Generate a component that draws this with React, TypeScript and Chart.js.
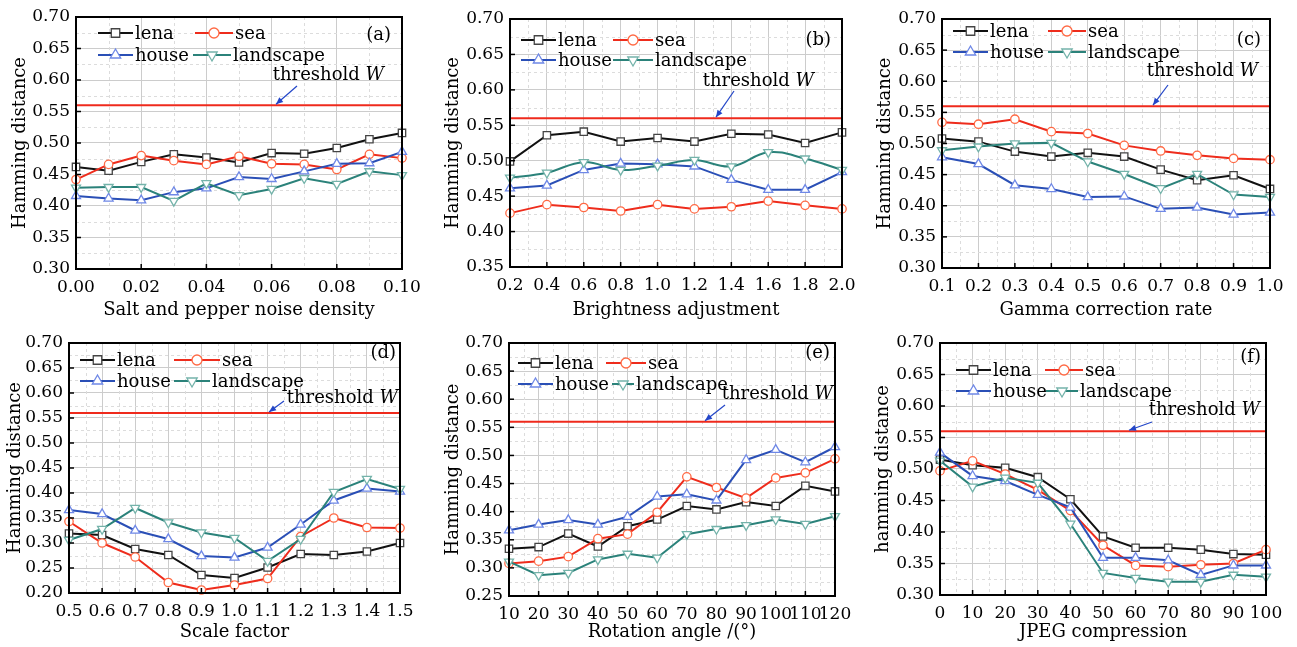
import React, { useEffect, useRef } from "react";
import { Chart, registerables } from "chart.js";

Chart.register(...registerables);

const SERIF = "'DejaVu Serif', 'Liberation Serif', serif";

const seriesNames = ["lena", "sea", "house", "landscape"];
const lineColors = ["#111111", "#ee2c1c", "#2a4fb6", "#2b827a"];
const markerColors = ["#444444", "#ff6a45", "#6f88e6", "#74b3aa"];
const markerStyles = ["rect", "circle", "triangle", "triangleDown"];
const thresholdW = 0.56;

// (a) Salt and pepper noise density
const aX = [0, 0.01, 0.02, 0.03, 0.04, 0.05, 0.06, 0.07, 0.08, 0.09, 0.1];
const aLena = [0.462, 0.456, 0.47, 0.482, 0.477, 0.469, 0.484, 0.483, 0.492, 0.506, 0.516];
const aSea = [0.442, 0.466, 0.48, 0.472, 0.466, 0.479, 0.467, 0.466, 0.458, 0.482, 0.476];
const aHouse = [0.416, 0.412, 0.409, 0.422, 0.428, 0.446, 0.443, 0.455, 0.467, 0.468, 0.486];
const aLandscape = [0.429, 0.43, 0.43, 0.408, 0.436, 0.417, 0.427, 0.444, 0.435, 0.455, 0.449];
const aXTicks = ["0.00", "0.02", "0.04", "0.06", "0.08", "0.10"];
const aYTicks = ["0.30", "0.35", "0.40", "0.45", "0.50", "0.55", "0.60", "0.65", "0.70"];

// (b) Brightness adjustment
const bX = [0.2, 0.4, 0.6, 0.8, 1.0, 1.2, 1.4, 1.6, 1.8, 2.0];
const bLena = [0.499, 0.536, 0.541, 0.527, 0.532, 0.527, 0.538, 0.537, 0.525, 0.54];
const bSea = [0.426, 0.438, 0.434, 0.429, 0.438, 0.432, 0.435, 0.443, 0.437, 0.432];
const bHouse = [0.461, 0.465, 0.487, 0.496, 0.495, 0.492, 0.473, 0.459, 0.459, 0.484];
const bLandscape = [0.476, 0.483, 0.498, 0.487, 0.493, 0.501, 0.492, 0.512, 0.503, 0.487];
const bXTicks = ["0.2", "0.4", "0.6", "0.8", "1.0", "1.2", "1.4", "1.6", "1.8", "2.0"];
const bYTicks = ["0.35", "0.40", "0.45", "0.50", "0.55", "0.60", "0.65", "0.70"];

// (c) Gamma correction rate
const cX = [0.1, 0.2, 0.3, 0.4, 0.5, 0.6, 0.7, 0.8, 0.9, 1.0];
const cLena = [0.508, 0.503, 0.487, 0.479, 0.485, 0.479, 0.458, 0.441, 0.449, 0.427];
const cSea = [0.534, 0.531, 0.539, 0.519, 0.516, 0.497, 0.488, 0.481, 0.476, 0.474];
const cHouse = [0.478, 0.467, 0.433, 0.427, 0.414, 0.415, 0.395, 0.397, 0.386, 0.389];
const cLandscape = [0.489, 0.495, 0.5, 0.501, 0.471, 0.451, 0.428, 0.451, 0.418, 0.414];
const cXTicks = ["0.1", "0.2", "0.3", "0.4", "0.5", "0.6", "0.7", "0.8", "0.9", "1.0"];
const cYTicks = ["0.30", "0.35", "0.40", "0.45", "0.50", "0.55", "0.60", "0.65", "0.70"];

// (d) Scale factor
const dX = [0.5, 0.6, 0.7, 0.8, 0.9, 1.0, 1.1, 1.2, 1.3, 1.4, 1.5];
const dLena = [0.319, 0.316, 0.288, 0.276, 0.236, 0.23, 0.251, 0.278, 0.276, 0.283, 0.3];
const dSea = [0.343, 0.3, 0.272, 0.221, 0.206, 0.216, 0.229, 0.313, 0.35, 0.331, 0.33];
const dHouse = [0.366, 0.358, 0.325, 0.308, 0.274, 0.271, 0.291, 0.337, 0.385, 0.409, 0.403];
const dLandscape = [0.306, 0.328, 0.37, 0.341, 0.321, 0.31, 0.264, 0.308, 0.402, 0.428, 0.408];
const dXTicks = ["0.5", "0.6", "0.7", "0.8", "0.9", "1.0", "1.1", "1.2", "1.3", "1.4", "1.5"];
const dYTicks = ["0.20", "0.25", "0.30", "0.35", "0.40", "0.45", "0.50", "0.55", "0.60", "0.65", "0.70"];

// (e) Rotation angle
const eX = [10, 20, 30, 40, 50, 60, 70, 80, 90, 100, 110, 120];
const eLena = [0.334, 0.337, 0.361, 0.338, 0.374, 0.386, 0.41, 0.404, 0.417, 0.41, 0.446, 0.436];
const eSea = [0.308, 0.312, 0.32, 0.352, 0.36, 0.399, 0.462, 0.443, 0.424, 0.46, 0.469, 0.494];
const eHouse = [0.367, 0.377, 0.385, 0.377, 0.391, 0.427, 0.431, 0.42, 0.492, 0.51, 0.488, 0.515];
const eLandscape = [0.311, 0.287, 0.291, 0.315, 0.325, 0.318, 0.36, 0.369, 0.376, 0.386, 0.378, 0.392];
const eXTicks = ["10", "20", "30", "40", "50", "60", "70", "80", "90", "100", "110", "120"];
const eYTicks = ["0.25", "0.30", "0.35", "0.40", "0.45", "0.50", "0.55", "0.60", "0.65", "0.70"];

// (f) JPEG compression
const fX = [0, 10, 20, 30, 40, 50, 60, 70, 80, 90, 100];
const fLena = [0.515, 0.506, 0.502, 0.487, 0.452, 0.393, 0.375, 0.375, 0.372, 0.365, 0.364];
const fSea = [0.497, 0.513, 0.492, 0.467, 0.434, 0.379, 0.347, 0.345, 0.348, 0.35, 0.372];
const fHouse = [0.526, 0.489, 0.481, 0.459, 0.439, 0.359, 0.359, 0.355, 0.332, 0.347, 0.347];
const fLandscape = [0.513, 0.472, 0.486, 0.478, 0.413, 0.335, 0.327, 0.321, 0.321, 0.332, 0.329];
const fXTicks = ["0", "10", "20", "30", "40", "50", "60", "70", "80", "90", "100"];
const fYTicks = ["0.30", "0.35", "0.40", "0.45", "0.50", "0.55", "0.60", "0.65", "0.70"];

type PanelCfg = {
  tag: string;
  xTitle: string;
  yTitle: string;
  x: number[];
  series: number[][];
  smooth: boolean[];
  xTicks: string[];
  yTicks: string[];
  box: { x0: number; y0: number; w: number; h: number; L: number; T: number; R: number; B: number };
  yTitleX: number;
  xTitlePad: number;
  legendX: number[];
  legendLen: number[];
  legendRows: number[];
  label: { right: number; y: number };
  thr: { right: number; y: number; ax: number; ay: number; tx: number };
};

const panels: PanelCfg[] = [
  {
    tag: "(a)", xTitle: "Salt and pepper noise density", yTitle: "Hamming distance",
    x: aX, series: [aLena, aSea, aHouse, aLandscape], smooth: [false, false, false, false],
    xTicks: aXTicks, yTicks: aYTicks,
    box: { x0: 0, y0: 0, w: 432, h: 323, L: 76, T: 17, R: 402, B: 269 },
    yTitleX: 20, xTitlePad: 2,
    legendX: [135, 235, 135, 233], legendLen: [37, 40, 37, 40], legendRows: [33, 55],
    label: { right: 391, y: 35 },
    thr: { right: 384, y: 75, ax: 297, ay: 86, tx: 276 },
  },
  {
    tag: "(b)", xTitle: "Brightness adjustment", yTitle: "Hamming distance",
    x: bX, series: [bLena, bSea, bHouse, bLandscape], smooth: [false, false, false, true],
    xTicks: bXTicks, yTicks: bYTicks,
    box: { x0: 432, y0: 0, w: 433, h: 323, L: 510, T: 19, R: 842, B: 267 },
    yTitleX: 21, xTitlePad: 2,
    legendX: [558, 655, 558, 655], legendLen: [37, 42, 37, 42], legendRows: [40, 60],
    label: { right: 831, y: 40 },
    thr: { right: 814, y: 81, ax: 734, ay: 91, tx: 716 },
  },
  {
    tag: "(c)", xTitle: "Gamma correction rate", yTitle: "Hamming distance",
    x: cX, series: [cLena, cSea, cHouse, cLandscape], smooth: [false, false, false, false],
    xTicks: cXTicks, yTicks: cYTicks,
    box: { x0: 865, y0: 0, w: 432, h: 323, L: 942, T: 19, R: 1270, B: 268 },
    yTitleX: 20, xTitlePad: 2,
    legendX: [990, 1088, 990, 1088], legendLen: [37, 40, 37, 40], legendRows: [31, 52],
    label: { right: 1261, y: 40 },
    thr: { right: 1258, y: 71, ax: 1168, ay: 85, tx: 1153 },
  },
  {
    tag: "(d)", xTitle: "Scale factor", yTitle: "Hamming distance",
    x: dX, series: [dLena, dSea, dHouse, dLandscape], smooth: [false, false, false, false],
    xTicks: dXTicks, yTicks: dYTicks,
    box: { x0: 0, y0: 323, w: 432, h: 324, L: 69, T: 343, R: 400, B: 593 },
    yTitleX: 15, xTitlePad: 4,
    legendX: [117, 222, 117, 212], legendLen: [37, 48, 37, 38], legendRows: [360, 381],
    label: { right: 396, y: 353 },
    thr: { right: 398, y: 398, ax: 284, ay: 401, tx: 269 },
  },
  {
    tag: "(e)", xTitle: "Rotation angle /(°)", yTitle: "Hamming distance",
    x: eX, series: [eLena, eSea, eHouse, eLandscape], smooth: [false, false, false, false],
    xTicks: eXTicks, yTicks: eYTicks,
    box: { x0: 432, y0: 323, w: 433, h: 324, L: 509, T: 343, R: 835, B: 596 },
    yTitleX: 21, xTitlePad: 4,
    legendX: [555, 648, 555, 636], legendLen: [37, 42, 37, 24], legendRows: [363, 384],
    label: { right: 830, y: 353 },
    thr: { right: 833, y: 394, ax: 725, ay: 405, tx: 705 },
  },
  {
    tag: "(f)", xTitle: "JPEG compression", yTitle: "hamming distance",
    x: fX, series: [fLena, fSea, fHouse, fLandscape], smooth: [false, false, false, false],
    xTicks: fXTicks, yTicks: fYTicks,
    box: { x0: 865, y0: 323, w: 432, h: 324, L: 940, T: 343, R: 1266, B: 595 },
    yTitleX: 18, xTitlePad: 4,
    legendX: [993, 1085, 993, 1080], legendLen: [37, 40, 37, 34], legendRows: [370, 391],
    label: { right: 1261, y: 357 },
    thr: { right: 1260, y: 410, ax: 1152, ay: 422, tx: 1129 },
  },
];

function drawMarker(ctx: CanvasRenderingContext2D, style: string, x: number, y: number, r: number, color: string) {
  ctx.save();
  ctx.beginPath();
  if (style === "rect") {
    const s = r * Math.SQRT1_2;
    ctx.rect(x - s, y - s, 2 * s, 2 * s);
  } else if (style === "circle") {
    ctx.arc(x, y, r, 0, Math.PI * 2);
  } else if (style === "triangle") {
    ctx.moveTo(x, y - r);
    ctx.lineTo(x - r * 0.866, y + r / 2);
    ctx.lineTo(x + r * 0.866, y + r / 2);
    ctx.closePath();
  } else {
    ctx.moveTo(x, y + r);
    ctx.lineTo(x - r * 0.866, y - r / 2);
    ctx.lineTo(x + r * 0.866, y - r / 2);
    ctx.closePath();
  }
  ctx.fillStyle = "#ffffff";
  ctx.fill();
  ctx.lineWidth = 1.3;
  ctx.strokeStyle = color;
  ctx.stroke();
  ctx.restore();
}

function PanelChart({ p }: { p: PanelCfg }) {
  const ref = useRef<HTMLCanvasElement | null>(null);
  useEffect(() => {
    const canvas = ref.current;
    if (!canvas) return;
    const { x0, y0, w, h, L, T, R, B } = p.box;
    const xMin = Number(p.xTicks[0]);
    const xMax = Number(p.xTicks[p.xTicks.length - 1]);
    const yMin = Number(p.yTicks[0]);
    const yMax = Number(p.yTicks[p.yTicks.length - 1]);

    const datasets: any[] = p.series.map((vals, i) => ({
      label: seriesNames[i],
      data: vals.map((v, j) => ({ x: p.x[j], y: v })),
      borderColor: lineColors[i],
      borderWidth: 2,
      backgroundColor: "#ffffff",
      pointBackgroundColor: "#ffffff",
      pointBorderColor: markerColors[i],
      pointBorderWidth: 1.3,
      pointStyle: markerStyles[i] === "triangleDown" ? "triangle" : markerStyles[i],
      pointRotation: markerStyles[i] === "triangleDown" ? 180 : 0,
      pointRadius: markerStyles[i] === "circle" ? 4.2 : 5.2,
      tension: p.smooth[i] ? 0.4 : 0,
      clip: false,
      order: 4 - i,
    }));
    datasets.push({
      label: "threshold",
      data: [{ x: xMin, y: thresholdW }, { x: xMax, y: thresholdW }],
      borderColor: "#ef2a1c",
      borderWidth: 2,
      pointRadius: 0,
      clip: false,
      order: 10,
    });

    const overlay = {
      id: "overlay" + p.tag,
      beforeDatasetsDraw(chart: any) {
        const ctx = chart.ctx as CanvasRenderingContext2D;
        const area = chart.chartArea;
        const xs = chart.scales.x;
        const ys = chart.scales.y;
        ctx.save();
        ctx.strokeStyle = "#dcdcdc";
        ctx.lineWidth = 1;
        ctx.setLineDash([3, 3]);
        for (let i = 0; i < p.xTicks.length - 1; i++) {
          const v = (Number(p.xTicks[i]) + Number(p.xTicks[i + 1])) / 2;
          const px = Math.round(xs.getPixelForValue(v)) + 0.5;
          ctx.beginPath();
          ctx.moveTo(px, area.top);
          ctx.lineTo(px, area.bottom);
          ctx.stroke();
        }
        for (let i = 0; i < p.yTicks.length - 1; i++) {
          const v = (Number(p.yTicks[i]) + Number(p.yTicks[i + 1])) / 2;
          const py = Math.round(ys.getPixelForValue(v)) + 0.5;
          ctx.beginPath();
          ctx.moveTo(area.left, py);
          ctx.lineTo(area.right, py);
          ctx.stroke();
        }
        ctx.restore();
      },
      afterDatasetsDraw(chart: any) {
        const ctx = chart.ctx as CanvasRenderingContext2D;
        const area = chart.chartArea;
        const xs = chart.scales.x;
        const ys = chart.scales.y;
        ctx.save();
        // frame
        ctx.strokeStyle = "#000000";
        ctx.lineWidth = 2;
        ctx.strokeRect(area.left, area.top, area.right - area.left, area.bottom - area.top);
        // inward ticks
        ctx.lineWidth = 1.5;
        for (let i = 1; i < p.xTicks.length - 1; i++) {
          const px = xs.getPixelForValue(Number(p.xTicks[i]));
          ctx.beginPath();
          ctx.moveTo(px, area.bottom);
          ctx.lineTo(px, area.bottom - 5);
          ctx.stroke();
        }
        for (let i = 1; i < p.yTicks.length - 1; i++) {
          const py = ys.getPixelForValue(Number(p.yTicks[i]));
          ctx.beginPath();
          ctx.moveTo(area.left, py);
          ctx.lineTo(area.left + 5, py);
          ctx.stroke();
        }
        // legend
        ctx.font = `18px ${SERIF}`;
        ctx.textBaseline = "middle";
        ctx.textAlign = "left";
        for (let i = 0; i < 4; i++) {
          const tx = p.legendX[i] - x0;
          const ty = p.legendRows[i < 2 ? 0 : 1] - y0;
          const len = p.legendLen[i];
          ctx.strokeStyle = lineColors[i];
          ctx.lineWidth = 2;
          ctx.beginPath();
          ctx.moveTo(tx - len, ty);
          ctx.lineTo(tx - 2, ty);
          ctx.stroke();
          drawMarker(ctx, markerStyles[i], tx - 2 - (len - 2) / 2, ty, markerStyles[i] === "circle" ? 5 : 6, markerColors[i]);
          ctx.fillStyle = "#000000";
          ctx.fillText(seriesNames[i], tx, ty + 1);
        }
        // panel tag
        ctx.textAlign = "right";
        ctx.fillText(p.tag, p.label.right - x0, p.label.y - y0);
        // threshold annotation
        const t1 = "threshold ";
        const t2 = "W";
        ctx.font = `18px ${SERIF}`;
        const w1 = ctx.measureText(t1).width;
        ctx.font = `italic 18px ${SERIF}`;
        const w2 = ctx.measureText(t2).width;
        const startX = p.thr.right - x0 - w1 - w2;
        ctx.textAlign = "left";
        ctx.font = `18px ${SERIF}`;
        ctx.fillText(t1, startX, p.thr.y - y0);
        ctx.font = `italic 18px ${SERIF}`;
        ctx.fillText(t2, startX + w1, p.thr.y - y0);
        // arrow
        const axp = p.thr.ax - x0;
        const ayp = p.thr.ay - y0;
        const txp = p.thr.tx - x0;
        const typ = ys.getPixelForValue(thresholdW) - 1;
        ctx.strokeStyle = "#2346c8";
        ctx.fillStyle = "#2346c8";
        ctx.lineWidth = 1.2;
        ctx.beginPath();
        ctx.moveTo(axp, ayp);
        ctx.lineTo(txp, typ);
        ctx.stroke();
        const ang = Math.atan2(typ - ayp, txp - axp);
        ctx.beginPath();
        ctx.moveTo(txp, typ);
        ctx.lineTo(txp - 7 * Math.cos(ang) + 3 * Math.sin(ang), typ - 7 * Math.sin(ang) - 3 * Math.cos(ang));
        ctx.lineTo(txp - 7 * Math.cos(ang) - 3 * Math.sin(ang), typ - 7 * Math.sin(ang) + 3 * Math.cos(ang));
        ctx.closePath();
        ctx.fill();
        ctx.restore();
      },
    };

    const chart = new Chart(canvas, {
      type: "line",
      data: { datasets },
      options: {
        animation: false,
        responsive: false,
        devicePixelRatio: 1,
        layout: { padding: { left: 0, top: T - y0, right: x0 + w - R, bottom: 0 } },
        plugins: { legend: { display: false }, tooltip: { enabled: false } },
        scales: {
          x: {
            type: "linear",
            min: xMin,
            max: xMax,
            afterBuildTicks: (s: any) => {
              s.ticks = p.xTicks.map((t) => ({ value: Number(t) }));
            },
            afterFit: (s: any) => {
              s.height = y0 + h - B;
            },
            ticks: {
              callback: (_v: any, i: number) => p.xTicks[i],
              autoSkip: false,
              maxRotation: 0,
              padding: 8,
              color: "#000000",
              font: { family: SERIF, size: 17 },
            },
            grid: { color: "#cccccc", lineWidth: 1, drawTicks: false },
            border: { display: false },
            title: {
              display: true,
              text: p.xTitle,
              color: "#000000",
              font: { family: SERIF, size: 18 },
              padding: { top: 0, bottom: p.xTitlePad },
            },
          },
          y: {
            type: "linear",
            min: yMin,
            max: yMax,
            afterBuildTicks: (s: any) => {
              s.ticks = p.yTicks.map((t) => ({ value: Number(t) }));
            },
            afterFit: (s: any) => {
              s.width = L - x0;
            },
            ticks: {
              callback: (_v: any, i: number) => p.yTicks[i],
              autoSkip: false,
              padding: 6,
              color: "#000000",
              font: { family: SERIF, size: 17 },
            },
            grid: { color: "#cccccc", lineWidth: 1, drawTicks: false },
            border: { display: false },
            title: {
              display: true,
              text: p.yTitle,
              color: "#000000",
              font: { family: SERIF, size: 18 },
              padding: { top: p.yTitleX - 10.8, bottom: 0 },
            },
          },
        },
      } as any,
      plugins: [overlay],
    });
    return () => chart.destroy();
  }, [p]);
  const { x0, y0, w, h } = p.box;
  return (
    <canvas
      ref={ref}
      width={w}
      height={h}
      style={{ position: "absolute", left: x0, top: y0, width: w, height: h, display: "block" }}
    />
  );
}

export default function App() {
  return (
    <div style={{ position: "absolute", left: 0, top: 0, width: 1297, height: 647, background: "#ffffff", overflow: "hidden" }}>
      {panels.map((p) => (
        <PanelChart key={p.tag} p={p} />
      ))}
    </div>
  );
}
